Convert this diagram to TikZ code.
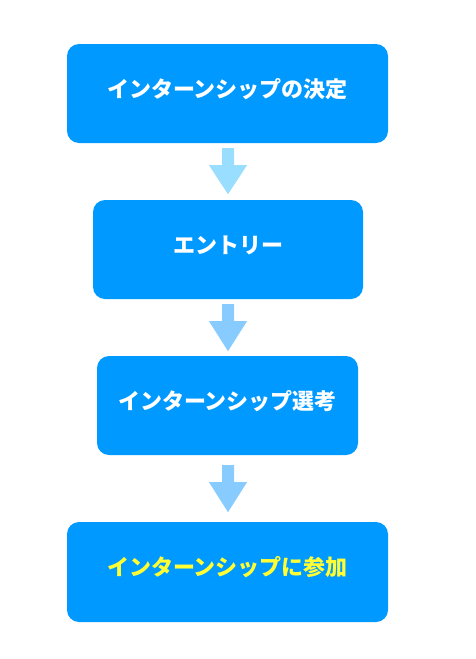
\documentclass[tikz,border=0pt]{standalone}
\usepackage{fontspec}
\newfontfamily\jp{Noto Sans CJK JP}
\usetikzlibrary{calc}
\definecolor{boxblue}{HTML}{0099FF}
\definecolor{arrlight}{HTML}{99DDFF}
\definecolor{arrmid}{HTML}{88CCFF}
\definecolor{txtyellow}{HTML}{FFFF33}
\begin{document}
\begin{tikzpicture}[x=1pt,y=-1pt,
  flowbox/.style={fill=boxblue, rounded corners=12pt, inner sep=0pt, minimum height=99pt,
    text height=53pt, text depth=46pt, font=\jp\bfseries\fontsize{22pt}{23pt}\selectfont, text=white},
]
\useasboundingbox (0,0) rectangle (476,659);
\node[flowbox, minimum width=321pt] (b1) at (227.5,93.5) {インターンシップの決定};
\node[flowbox, minimum width=270pt] (b2) at (228,249.5) {エントリー};
\node[flowbox, minimum width=261pt] (b3) at (227.5,405.5) {インターンシップ選考};
\node[flowbox, minimum width=321pt, minimum height=100pt, text depth=47pt, text=txtyellow] (b4) at (227.5,572) {インターンシップに参加};
% arrows
\fill[arrlight] ($(b1.south)+(-5.5,5)$) -- ++(12,0) -- ++(0,17) -- ++(13,0) -- ++(-19,29) -- ++(-19,-29) -- ++(13,0) -- cycle;
\fill[arrmid] ($(b2.south)+(-6,5)$) -- ++(12,0) -- ++(0,17) -- ++(13,0) -- ++(-19,30) -- ++(-19,-30) -- ++(13,0) -- cycle;
\fill[arrmid] ($(b3.south)+(-5.5,10)$) -- ++(12,0) -- ++(0,17) -- ++(13,0) -- ++(-19,30) -- ++(-19,-30) -- ++(13,0) -- cycle;
\end{tikzpicture}
\end{document}
